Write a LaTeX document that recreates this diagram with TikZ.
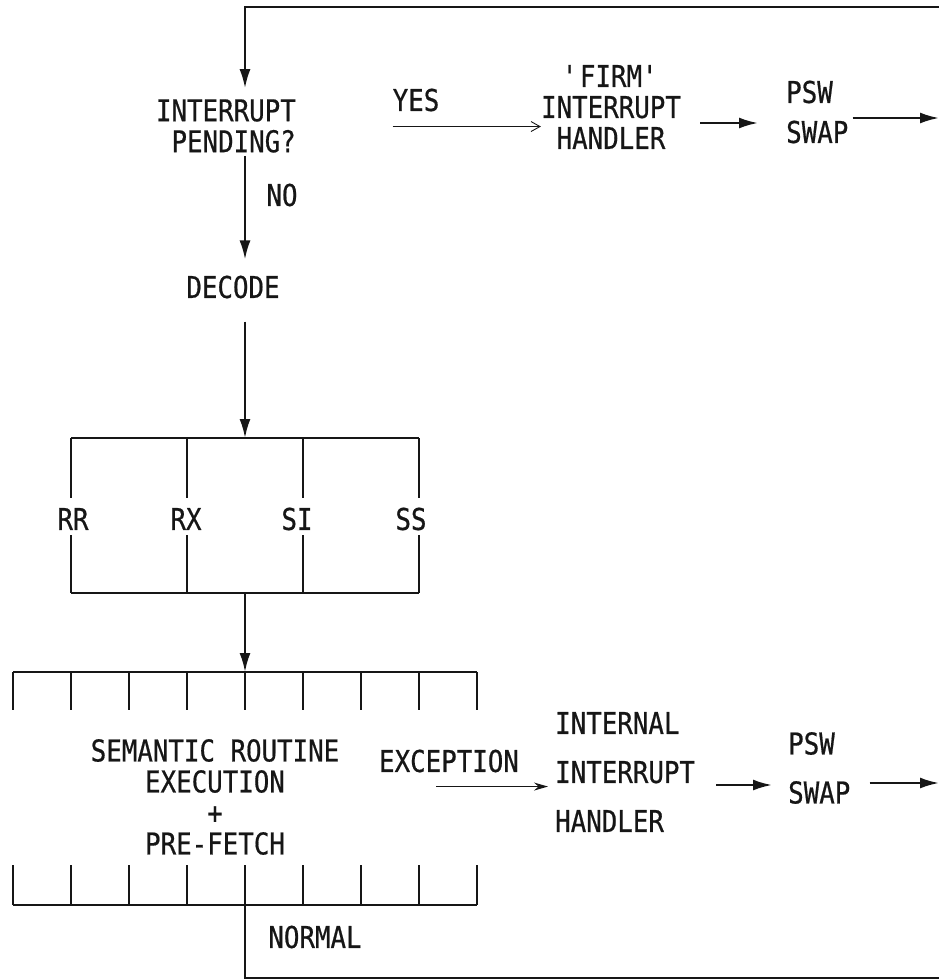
\documentclass[tikz,border=0pt]{standalone}
\usepackage{fontspec}
\usepackage{tikz}
\usetikzlibrary{arrows.meta,positioning,calc}
\newfontfamily\twfont[FakeStretch=0.86,FakeBold=0.6]{DejaVu Sans Mono}
\definecolor{fcink}{RGB}{22,22,22}
\tikzset{
  lbl/.style={inner sep=0pt, text=fcink, font=\twfont\fontsize{30}{31}\selectfont},
  lbll/.style={lbl, align=left},
  lblc/.style={lbl, align=center},
  roomy/.style={font=\twfont\fontsize{30}{40}\selectfont},
  wide/.style={font=\twfont\fontsize{30}{49}\selectfont},
  ln/.style={draw=fcink, line width=2.2pt},
  arr/.style={-{Latex[length=19pt,width=11pt]}, draw=fcink, line width=2.2pt},
  tarr/.style={-{Straight Barb[length=9pt,width=10pt]}, draw=fcink, line width=0.9pt},
  earr/.style={-{Stealth[length=14pt,width=8pt]}, draw=fcink, line width=1.3pt}
}
\begin{document}
\begin{tikzpicture}[x=1pt,y=-1pt]
  \useasboundingbox (0,0) rectangle (939,980);
  % loop ends at the right edge
  \coordinate (topr) at (939,7);
  \coordinate (botr) at (939,978);
  \coordinate (col) at (245,0);

  % upper row
  \node[lbl, align=right, anchor=east] (ip) at (296,126) {INTERRUPT\\PENDING?};
  \node[lbl] (yes) at (416,100) {YES};
  \node[lblc] (firm) at (611,107) {\textquotesingle FIRM\textquotesingle\\INTERRUPT\\HANDLER};
  \node[lbll, roomy, anchor=west] (psw1) at (786,112) {PSW\\SWAP};
  \node[lbl] (no) at (282,195) {NO};
  \node[lbl] (dec) at (233,287) {DECODE};

  % format branches
  \coordinate (b1t) at (245,438);
  \coordinate (b1b) at (245,593);
  \draw[ln] (71,438) -- (419,438) (71,593) -- (419,593);
  \foreach \xx/\dx/\nm/\tx in {71/2/rr/RR, 187/-1/rx/RX, 303/-6/si/SI, 419/-8/ss/SS} {
    \node[lbl] (\nm) at (\xx+\dx,519) {\tx};
    \draw[ln] (\xx,438) -- (\xx,498) (\xx,535) -- (\xx,593);
  }

  % execution block
  \coordinate (b2t) at (245,672);
  \coordinate (b2b) at (245,905);
  \draw[ln] (13,672) -- (477,672) (13,905) -- (477,905);
  \foreach \i in {0,...,8} {
    \draw[ln] (13+58*\i,672) -- ++(0,38);
    \draw[ln] (13+58*\i,905) -- ++(0,-40);
  }
  \node[lblc] (sem) at (215,797) {SEMANTIC ROUTINE\\EXECUTION\\+\\PRE-FETCH};
  \node[lbl] (exc) at (449,761) {EXCEPTION};
  \node[lbll, wide, anchor=west] (ih) at (555,772) {INTERNAL\\INTERRUPT\\HANDLER};
  \node[lbll, wide, anchor=west] (psw2) at (788,768) {PSW\\SWAP};
  \node[lbl] (nrm) at (315,937) {NORMAL};

  % main flow
  \draw[arr, shorten >=11pt] (topr) -- (topr -| col) -- (ip.north -| col);
  \draw[arr, shorten <=3pt, shorten >=16pt] (ip.south -| col) -- (dec.north -| col);
  \draw[arr, shorten <=23pt] (dec.south -| col) -- (b1t);
  \draw[arr] (b1b) -- (b2t);
  \draw[ln] (b2b) -- (col |- botr) -- (botr);

  % firm interrupt path
  \coordinate (ys) at ([yshift=-15pt]yes.south west);
  \draw[tarr] (ys) -- (ys -| firm.west);
  \coordinate (a1) at ([yshift=-16pt]firm.east);
  \draw[arr, shorten <=19pt, shorten >=28pt] (a1) -- (a1 -| psw1.west);
  \coordinate (a2) at ([yshift=-6pt]psw1.east);
  \draw[arr, shorten <=4pt] (a2) -- (a2 -| topr);

  % internal interrupt path
  \coordinate (a3) at ([xshift=-13pt,yshift=-14pt]exc.south);
  \draw[earr, shorten >=7pt] (a3) -- (a3 -| ih.west);
  \coordinate (a4) at ([yshift=-13pt]ih.east);
  \draw[arr, shorten <=21pt, shorten >=16pt] (a4) -- (a4 -| psw2.west);
  \coordinate (a5) at ([yshift=-15pt]psw2.east);
  \draw[arr, shorten <=19pt] (a5) -- (a5 -| botr);
\end{tikzpicture}
\end{document}
